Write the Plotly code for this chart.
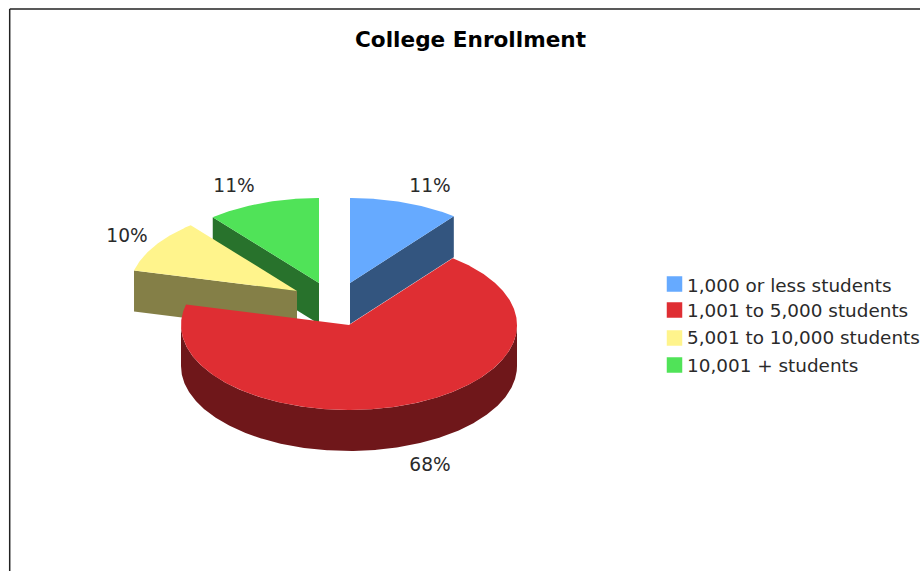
import numpy as np
import plotly.graph_objects as go

# ---- data ----
categories = ["1,000 or less students", "1,001 to 5,000 students",
              "5,001 to 10,000 students", "10,001 + students"]
values = [10.6, 68.3, 10.2, 10.9]
title = "College Enrollment"

# ---- styles ----
top_colors = ["#66AAFF", "#DF2E33", "#FFF48C", "#50E358"]
side_colors = ["#33557F", "#6F171A", "#847F47", "#28722C"]
TEXT = "#2A2A2A"
FONT = "DejaVu Sans, Verdana, sans-serif"

# ---- layout of the exploded pie in picture pixels ----
W, H = 920, 571
RX, RY, DEPTH = 168, 85, 41
apexes = [(350, 283), (349, 325), (297, 291), (319, 283)]
label_xy = [(430, 187.5), (430, 466.5), (127, 237.5), (234, 187.5)]
legend_x, legend_text_x = 674.5, 687
legend_y = [284, 310, 338, 365]
legend_text_y = [287, 312, 339.5, 367]


def arc(cx, cy, a0, a1, dy=0):
    t = np.radians(np.linspace(a0, a1, max(int(abs(a1 - a0)) * 2, 2) + 1))
    return cx + RX * np.sin(t), cy - RY * np.cos(t) + dy


fig = go.Figure()
cum = np.cumsum([0] + values) / sum(values) * 360
draw_order = [3, 2, 0, 1]

for i in draw_order:
    a0, a1 = cum[i], cum[i + 1]
    cx, cy = apexes[i]
    # extruded faces
    if i == 1:
        # the outer rim seen from the front
        tx, ty = arc(cx, cy, 90, 270)
        bx, by = arc(cx, cy, 90, 270, DEPTH)
        xs = np.r_[tx, bx[::-1]]
        ys = np.r_[ty, by[::-1]]
    else:
        # the cut face toward the viewer
        ang = a0 if i != 0 else a1
        ex, ey = arc(cx, cy, ang, ang)
        xs = np.r_[cx, ex[0], ex[0], cx]
        ys = np.r_[cy, ey[0], ey[0] + DEPTH, cy + DEPTH]
    fig.add_trace(go.Scatter(x=xs, y=ys, mode="lines", fill="toself",
                             fillcolor=side_colors[i], line=dict(width=0),
                             hoverinfo="skip", showlegend=False))
    # top face
    ax, ay = arc(cx, cy, a0, a1)
    fig.add_trace(go.Scatter(x=np.r_[cx, ax, cx], y=np.r_[cy, ay, cy],
                             mode="lines", fill="toself",
                             fillcolor=top_colors[i], line=dict(width=0),
                             name=categories[i], hoverinfo="name",
                             showlegend=False))

# percentage labels
total = sum(values)
fig.add_trace(go.Scatter(
    x=[p[0] for p in label_xy], y=[p[1] for p in label_xy],
    mode="text", text=[f"{v / total * 100:.0f}%" for v in values],
    textposition="middle center",
    textfont=dict(family=FONT, size=18.6, color=TEXT),
    hoverinfo="skip", showlegend=False))

# legend
fig.add_trace(go.Scatter(
    x=[legend_x] * 4, y=legend_y, mode="markers",
    marker=dict(symbol="square", size=15.5, color=top_colors, line=dict(width=0)),
    hoverinfo="skip", showlegend=False))
fig.add_trace(go.Scatter(
    x=[legend_text_x] * 4, y=legend_text_y, mode="text", text=categories,
    textposition="middle right",
    textfont=dict(family=FONT, size=18.4, color=TEXT),
    hoverinfo="skip", showlegend=False))

fig.update_layout(
    width=W, height=H, autosize=False,
    margin=dict(l=0, r=0, t=0, b=0),
    paper_bgcolor="white", plot_bgcolor="white",
    showlegend=False,
    xaxis=dict(range=[0, W], visible=False, fixedrange=True),
    yaxis=dict(range=[H, 0], visible=False, fixedrange=True),
    annotations=[dict(
        text=f"<b>{title}</b>", x=470.5, y=39, xref="x", yref="y",
        showarrow=False, xanchor="center", yanchor="middle",
        font=dict(family=FONT, size=21.6, color="#000000"))],
    shapes=[
        dict(type="line", xref="x", yref="y", x0=9.7, x1=W, y0=9, y1=9,
             line=dict(color="#222222", width=1.5)),
        dict(type="line", xref="x", yref="y", x0=9.7, x1=9.7, y0=9, y1=H,
             line=dict(color="#222222", width=1.5)),
    ],
)
fig.write_html(
    "out.html", config=dict(displayModeBar=False),
    post_script="document.body.style.margin='0';document.documentElement.style.overflow='hidden';",
)
